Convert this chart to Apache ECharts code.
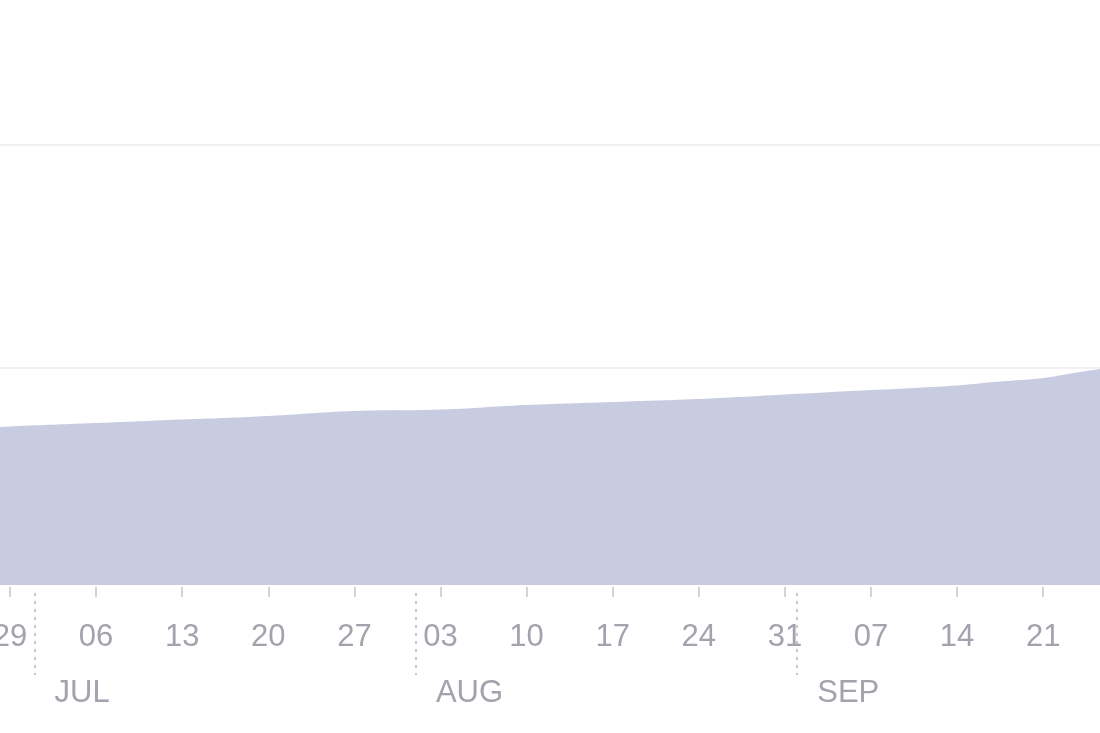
<!DOCTYPE html>
<html>
<head>
<meta charset="utf-8">
<script src="https://cdn.jsdelivr.net/npm/echarts@6/dist/echarts.min.js"></script>
<style>html,body{margin:0;padding:0;background:#fff;}#c{width:1100px;height:733px;}</style>
</head>
<body>
<div id="c"></div>
<script>
// Days counted from Monday 29 Jun 2020 (day 0)
const baseDate = Date.UTC(2020, 5, 29);
const dayOffsets = [-7, -1, 0, 7, 14, 21, 28, 35, 42, 49, 56, 63, 70, 77, 80, 84, 86, 88, 89, 91];
const values =     [71.5, 73.5, 73.8, 75.3, 76.9, 78.5, 80.7, 81.4, 83.4, 84.8, 86.1, 88.1, 90.1, 92.2, 93.7, 95.5, 97.3, 99.1, 100, 103];
const monthStarts = [2, 33, 64];
const monthNames = ['JAN','FEB','MAR','APR','MAY','JUN','JUL','AUG','SEP','OCT','NOV','DEC'];
const areaBase = 2.7;

function dayToDate(d) { return new Date(baseDate + Math.round(d) * 86400000); }

const chart = echarts.init(document.getElementById('c'), null, {renderer: 'canvas'});
const labelColor = '#a3a3ad';
const fontFamily = '"Liberation Sans", Arial, sans-serif';

chart.setOption({
  animation: false,
  backgroundColor: '#fff',
  grid: { left: -76.1, right: -29.3, top: -78, bottom: 142, containLabel: false, outerBoundsMode: 'none' },
  xAxis: [
    {
      type: 'value', min: -7, max: 91, interval: 7, offset: -4,
      axisLine: { show: false },
      axisTick: { show: true, length: 10, lineStyle: { color: '#d2d2da', width: 2 } },
      splitLine: { show: false },
      axisLabel: {
        margin: 35, color: labelColor, fontSize: 31, fontFamily: fontFamily,
        formatter: function (v) { const d = dayToDate(v).getUTCDate(); return (d < 10 ? '0' : '') + d; }
      }
    },
    {
      type: 'value', min: -7, max: 91, position: 'bottom', offset: 2,
      axisLine: { show: false },
      axisTick: { show: true, customValues: monthStarts, length: 82, lineStyle: { color: '#c6c6ce', width: 2, type: [3, 5] } },
      splitLine: { show: false },
      axisLabel: {
        customValues: monthStarts, margin: 85, color: labelColor, fontSize: 31, fontFamily: fontFamily,
        align: 'left', padding: [0, 0, 0, 20],
        formatter: function (v) { return monthNames[dayToDate(v).getUTCMonth()]; }
      }
    }
  ],
  yAxis: {
    type: 'value', min: 0, max: 300, interval: 100,
    axisLine: { show: false }, axisTick: { show: false }, axisLabel: { show: false },
    splitLine: { show: true, showMinLine: false, showMaxLine: false, lineStyle: { color: '#f2eff5', width: 2 } }
  },
  series: [{
    type: 'line',
    xAxisIndex: 0,
    data: dayOffsets.map((d, i) => [d, values[i]]),
    smooth: 0.5,
    showSymbol: false,
    lineStyle: { width: 0 },
    areaStyle: { color: '#c8cce1', opacity: 1, origin: areaBase }
  }]
});
</script>
</body>
</html>
